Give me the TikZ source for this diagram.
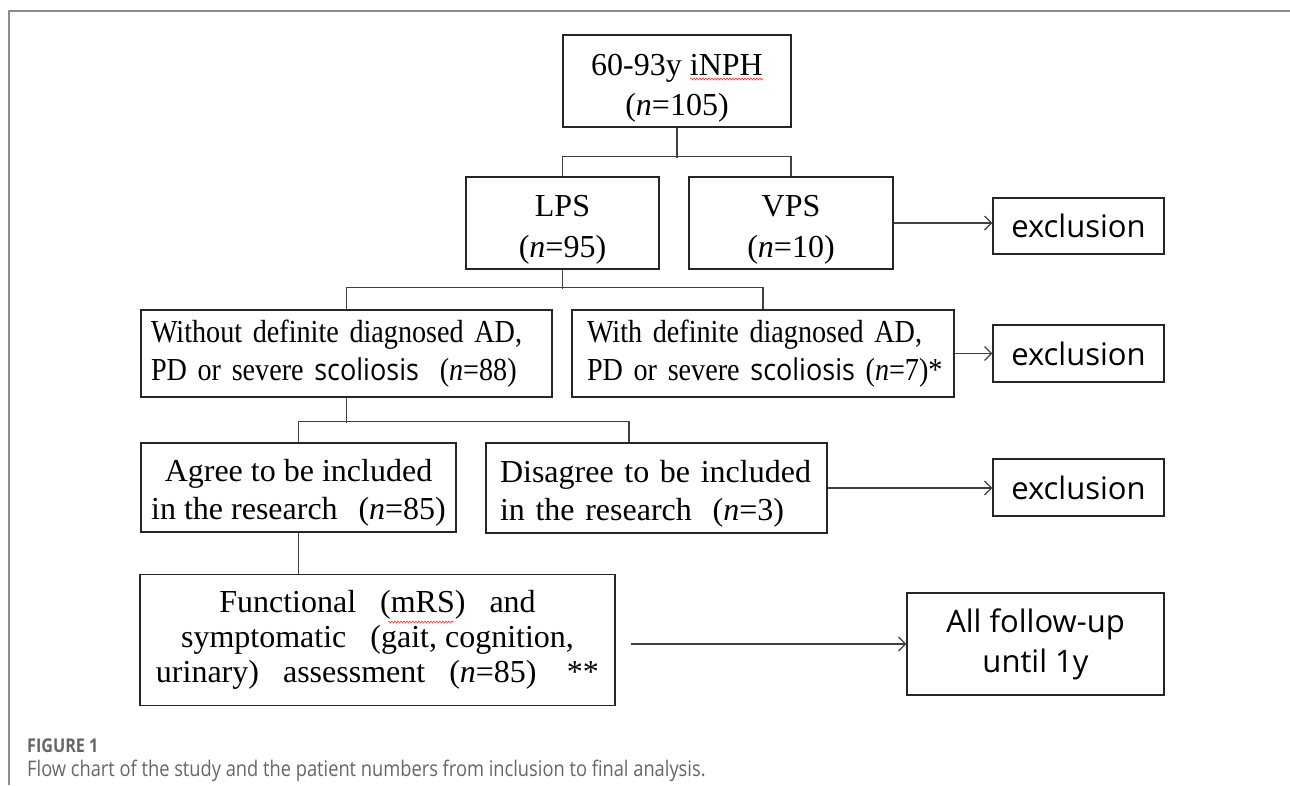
\documentclass[tikz,border=0pt]{standalone}
\usepackage{fontspec}
\setmainfont{Liberation Serif}
\newfontfamily\serifc[FakeStretch=0.88,WordSpace=0.7]{Liberation Serif}
\newfontfamily\sansx{Open Sans}
\newfontfamily\sansc[FakeStretch=0.9]{Open Sans}
\newfontfamily\capfont[FakeStretch=0.85]{Open Sans}
\usetikzlibrary{arrows.meta,decorations.pathmorphing}
\newcommand{\lpar}{\hspace{0.75em}(}
\newcommand{\rpar}{)\hspace{0.75em}}
\newcommand{\lparb}{\hspace{0.45em}(}
\newcommand{\tallstrut}[1]{\rule{0pt}{#1}}
\tikzset{
  box/.style={draw=black!85, line width=1.3pt, inner sep=0pt, align=center,
    font=\fontsize{32}{39}\selectfont},
  exbox/.style={draw=black!85, line width=1.3pt, inner sep=0pt, align=center,
    font=\sansx\fontsize{31}{40}\selectfont},
  conn/.style={draw=black!75, line width=1.3pt},
  arr/.style={conn, -{Straight Barb[length=7pt,width=14pt,line width=1.2pt]}},
  squig/.style={draw=red!80, line width=0.6pt, decorate,
    decoration={snake, amplitude=1pt, segment length=3pt}}
}
\begin{document}
\begin{tikzpicture}[x=1pt,y=-1pt]
\useasboundingbox (0,0) rectangle (1290,785);
% frame
\draw[draw=black!45, line width=2pt] (9,785) -- (9,11) -- (1290,11);

% boxes
\node[box, minimum width=228, minimum height=92, font=\fontsize{32}{40}\selectfont] (top) at (677,81) {\tallstrut{36.5pt}60-93y iNPH\\(\textit{n}=105)};
\node[box, minimum width=193, minimum height=92, font=\fontsize{32}{41}\selectfont] (lps) at (562.5,223) {\tallstrut{35pt}LPS\\(\textit{n}=95)};
\node[box, minimum width=204, minimum height=92, font=\fontsize{32}{41}\selectfont] (vps) at (791,223) {\tallstrut{35pt}VPS\\(\textit{n}=10)};
\node[exbox, minimum width=171, minimum height=56] (ex1) at (1078.5,226) {exclusion};

\node[box, align=left, text width=391, inner xsep=10pt, minimum height=87, font=\serifc\fontsize{32}{38}\selectfont] (without) at (346.5,353.5)
  {\mbox{Without definite diagnosed AD,}\\\mbox{PD or severe {\sansc\fontsize{30}{38}\selectfont scoliosis}\hspace{0.2em}\lparb\textit{n}=88)}};
\node[box, align=left, text width=352, inner xsep=15pt, minimum height=87, font=\serifc\fontsize{32}{38}\selectfont] (with) at (763,353.5)
  {\mbox{With definite diagnosed AD,}\\\mbox{PD or severe {\sansc\fontsize{30}{38}\selectfont scoliosis} (\textit{n}=7)*}};
\node[exbox, minimum width=171, minimum height=57] (ex2) at (1078.5,353.5) {exclusion};

\node[box, minimum width=315, minimum height=89, font=\fontsize{32}{38}\selectfont] (agree) at (298.5,487.5)
  {\tallstrut{33pt}Agree to be included\hspace{22pt}\\in the research\hspace{0.2em}\lparb\textit{n}=85)\hspace{20pt}};
\node[box, align=left, text width=313, inner xsep=14pt, minimum height=90, font=\fontsize{32}{38}\selectfont] (disagree) at (656.5,488)
  {\tallstrut{33pt}Disagree to be included\\in the research\hspace{0.2em}\lparb\textit{n}=3)};
\node[exbox, minimum width=171, minimum height=57] (ex3) at (1078.5,487.5) {exclusion};

\node[box, minimum width=475, minimum height=131, font=\fontsize{32}{35}\selectfont] (func) at (377.5,640)
  {Functional\lpar mRS\rpar and\\symptomatic\lpar gait, cognition,\\urinary\rpar assessment\lpar\textit{n}=85\rpar\hspace{0.2em}**};
\node[exbox, minimum width=257, minimum height=102] (follow) at (1035.5,644) {All follow-up\\until 1y};

% spell-check squiggles
\draw[squig] (690,79) -- (763,79);
\draw[squig] (388,622) -- (454,622);

% connectors
\draw[conn] (top.south) -- ++(0,30);
\draw[conn] (lps.north) -- ++(0,-20) -| (vps.north);
\draw[conn] (lps.south) -- ++(0,19);
\draw[conn] (without.north) -- ++(0,-22) -| (with.north);
\draw[conn] (without.south) -- ++(0,25);
\coordinate (dtop) at ([xshift=-27.5pt]disagree.north);
\draw[conn] (agree.north) -- ++(0,-21) -| (dtop);
\draw[conn] (agree.south) -- (agree.south |- func.north);

\draw[arr] (vps.east) -- (vps.east -| ex1.west);
\draw[arr] (with.east) -- (with.east -| ex2.west);
\draw[arr] (disagree.east) -- (disagree.east -| ex3.west);
\coordinate (fs) at ([xshift=15pt]func.east);
\draw[arr] (fs |- follow.west) -- (follow.west);

% caption
\node[anchor=base west, inner sep=0pt, text=black!60, font=\capfont\bfseries\fontsize{19}{21}\selectfont] (figlbl) at (27,752) {FIGURE 1};
\node[anchor=base west, inner sep=0pt, text=black!60, font=\capfont\fontsize{21.5}{24}\selectfont] (figcap) at (27,776) {Flow chart of the study and the patient numbers from inclusion to final analysis.};
\end{tikzpicture}
\end{document}
